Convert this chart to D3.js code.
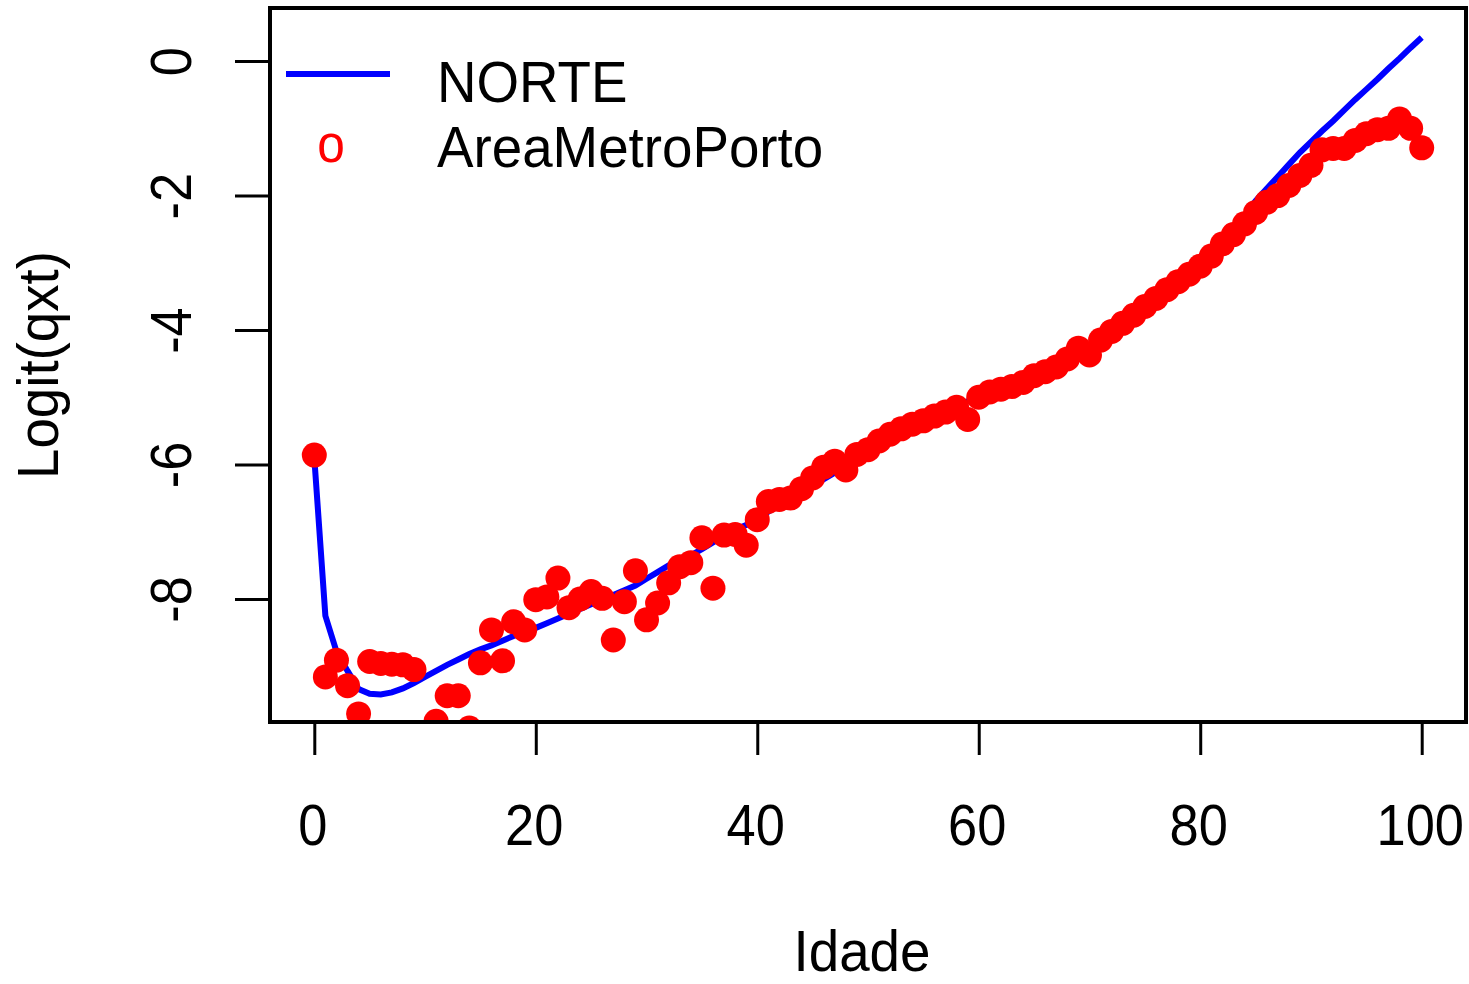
<!DOCTYPE html>
<html>
<head>
<meta charset="utf-8">
<title>Logit(qxt) - NORTE vs AreaMetroPorto</title>
<script src="https://d3js.org/d3.v7.min.js"></script>
<style>
  body { margin: 0; background: white; }
  text { font-family: "Liberation Sans", Arial, sans-serif; fill: black; }
</style>
</head>
<body>
<div id="chart"></div>
<script>
// ages 0..100
var ages = d3.range(0, 101);

// NORTE logit(qx) line
var norte = [
  -5.90, -8.25, -8.78, -9.07, -9.34, -9.41, -9.42, -9.39, -9.33, -9.25,
  -9.16, -9.07, -8.98, -8.90, -8.82, -8.75, -8.69, -8.62, -8.55, -8.49,
  -8.43, -8.36, -8.29, -8.22, -8.15, -8.08, -8.01, -7.94, -7.87, -7.80,
  -7.70, -7.60, -7.50, -7.42, -7.35, -7.26, -7.16, -7.06, -6.97, -6.90,
  -6.80, -6.70, -6.61, -6.51, -6.42, -6.32, -6.22, -6.12, -6.02, -5.92,
  -5.82, -5.72, -5.62, -5.53, -5.45, -5.37, -5.29, -5.21, -5.13, -5.06,
  -4.99, -4.93, -4.87, -4.81, -4.74, -4.67, -4.59, -4.51, -4.42, -4.33,
  -4.23, -4.13, -4.02, -3.91, -3.79, -3.67, -3.55, -3.42, -3.29, -3.16,
  -3.02, -2.86, -2.69, -2.52, -2.31, -2.08, -1.90, -1.72, -1.54, -1.36,
  -1.20, -1.04, -0.89, -0.73, -0.57, -0.42, -0.27, -0.11, 0.04, 0.20,
  0.35
];

// AreaMetroPorto logit(qx) points (null = no deaths, not drawn)
var areaMetroPorto = [
  -5.86, -9.16, -8.91, -9.29, -9.71, -8.93, -8.96, -8.97, -8.98, -9.05,
  null,  -9.82, -9.44, -9.44, -9.92, -8.95, -8.46, -8.92, -8.34, -8.46,
  -8.01, -7.97, -7.69, -8.13, -8.00, -7.89, -7.99, -8.61, -8.04, -7.58,
  -8.31, -8.06, -7.76, -7.52, -7.46, -7.09, -7.84, -7.05, -7.04, -7.20,
  -6.82, -6.55, -6.52, -6.50, -6.36, -6.20, -6.04, -5.95, -6.08, -5.85,
  -5.78, -5.65, -5.55, -5.47, -5.40, -5.35, -5.28, -5.22, -5.15, -5.33,
  -5.00, -4.92, -4.88, -4.84, -4.78, -4.68, -4.62, -4.55, -4.43, -4.27,
  -4.37, -4.15, -4.02, -3.90, -3.78, -3.65, -3.53, -3.40, -3.28, -3.17,
  -3.05, -2.90, -2.72, -2.58, -2.42, -2.25, -2.10, -2.00, -1.85, -1.70,
  -1.55, -1.32, -1.30, -1.30, -1.18, -1.08, -1.02, -1.00, -0.86, -1.00,
  -1.29
];

var xTicks = [0, 20, 40, 60, 80, 100];
var yTicks = [0, -2, -4, -6, -8];
var seriesNames = ["NORTE", "AreaMetroPorto"];

var lineColor = "#0000FF";
var pointColor = "#FF0000";
var squeezeNum = 0.92; // tick digits are a bit narrow in the original
var squeezeTxt = 0.96;

var width = 1469, height = 984;
var plot = { left: 270, right: 1466, top: 8, bottom: 722 };

var svg = d3.select("#chart").append("svg")
  .attr("width", width)
  .attr("height", height);

var x = d3.scaleLinear().domain([-4, 104]).range([plot.left, plot.right]);
var y = d3.scaleLinear().domain([-9.83, 0.79]).range([plot.bottom, plot.top]);

svg.append("clipPath").attr("id", "plotclip")
  .append("rect")
  .attr("x", plot.left)
  .attr("y", plot.top)
  .attr("width", plot.right - plot.left)
  .attr("height", plot.bottom - plot.top);

var inner = svg.append("g").attr("clip-path", "url(#plotclip)");

// NORTE line
var line = d3.line()
  .x(function(d, i) { return x(ages[i]); })
  .y(function(d) { return y(d); });

inner.append("path")
  .datum(norte)
  .attr("d", line)
  .attr("fill", "none")
  .attr("stroke", lineColor)
  .attr("stroke-width", 6);

// AreaMetroPorto points
var pts = ages.map(function(a, i) { return { age: a, v: areaMetroPorto[i] }; })
  .filter(function(d) { return d.v !== null; });

inner.selectAll("circle.pt")
  .data(pts)
  .enter().append("circle")
  .attr("class", "pt")
  .attr("cx", function(d) { return x(d.age); })
  .attr("cy", function(d) { return y(d.v); })
  .attr("r", 12.5)
  .attr("fill", pointColor);

// box
svg.append("rect")
  .attr("x", plot.left)
  .attr("y", plot.top)
  .attr("width", plot.right - plot.left)
  .attr("height", plot.bottom - plot.top)
  .attr("fill", "none")
  .attr("stroke", "black")
  .attr("stroke-width", 4);

// x axis
var xAxis = svg.append("g")
  .attr("transform", "translate(0," + plot.bottom + ")")
  .call(d3.axisBottom(x).tickValues(xTicks).tickSize(33).tickPadding(0));
xAxis.select(".domain").remove();
xAxis.selectAll(".tick line").attr("stroke", "black").attr("stroke-width", 3);
xAxis.selectAll(".tick text").remove();
xAxis.selectAll(".tick").append("text")
  .attr("transform", "translate(-2,123) scale(" + squeezeNum + ",1)")
  .attr("text-anchor", "middle")
  .style("font-size", "57px")
  .text(function(d) { return d; });

// y axis
var yAxis = svg.append("g")
  .attr("transform", "translate(" + plot.left + ",0)")
  .call(d3.axisLeft(y).tickValues(yTicks).tickSize(35).tickPadding(0));
yAxis.select(".domain").remove();
yAxis.selectAll(".tick line").attr("stroke", "black").attr("stroke-width", 3);
yAxis.selectAll(".tick text").remove();
yAxis.selectAll(".tick").append("text")
  .attr("transform", "translate(-79,0) rotate(-90) scale(" + squeezeNum + ",1)")
  .attr("text-anchor", "middle")
  .style("font-size", "57px")
  .text(function(d) { return d; });

// axis titles
svg.append("text")
  .attr("transform", "translate(862,971) scale(" + squeezeTxt + ",1)")
  .attr("text-anchor", "middle")
  .style("font-size", "57px")
  .text("Idade");

svg.append("text")
  .attr("transform", "translate(58," + ((plot.top + plot.bottom) / 2) + ") rotate(-90) scale(" + squeezeTxt + ",1)")
  .attr("text-anchor", "middle")
  .style("font-size", "57px")
  .text("Logit(qxt)");

// legend
var legend = svg.append("g");
legend.append("line")
  .attr("x1", 286).attr("x2", 390)
  .attr("y1", 74).attr("y2", 74)
  .attr("stroke", lineColor)
  .attr("stroke-width", 6);
legend.append("text")
  .attr("transform", "translate(331,162) scale(" + squeezeNum + ",1)")
  .attr("text-anchor", "middle")
  .style("font-size", "54px")
  .style("fill", pointColor)
  .text("o");
legend.selectAll("text.lab")
  .data(seriesNames)
  .enter().append("text")
  .attr("class", "lab")
  .attr("transform", function(d, i) { return "translate(437," + (102 + i * 65) + ") scale(" + squeezeTxt + ",1)"; })
  .style("font-size", "57px")
  .text(function(d) { return d; });
</script>
</body>
</html>
